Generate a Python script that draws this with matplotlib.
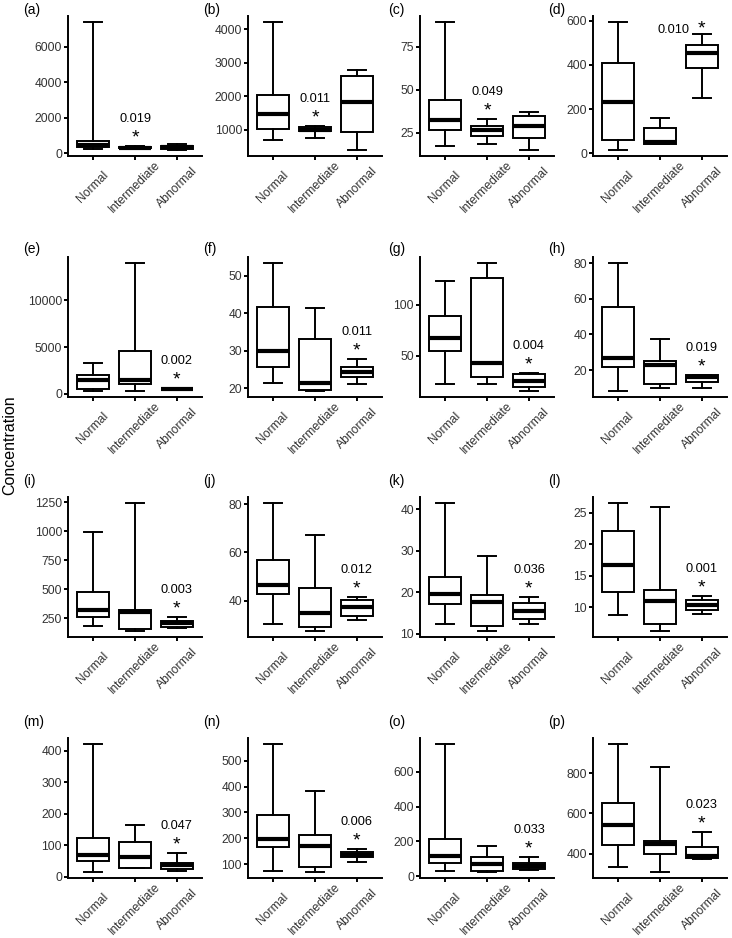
import numpy as np
import matplotlib.pyplot as plt

plt.rcParams['font.family'] = ['Liberation Sans', 'DejaVu Sans']

groups = ["Normal", "Intermediate", "Abnormal"]

# each row: whisker low, Q1, median, Q3, whisker high  (Normal, Intermediate, Abnormal)
a_stats = [(245, 330, 480, 680, 7390), (260, 290, 320, 350, 380), (200, 260, 350, 420, 520)]
b_stats = [(684, 1030, 1474, 2046, 4198), (763, 950, 1000, 1080, 1100), (408, 940, 1829, 2609, 2787)]
c_stats = [(17.1, 26.5, 32.5, 43.7, 89.0), (18.7, 23.3, 26.3, 29.0, 32.7), (15.2, 21.7, 28.7, 34.8, 37.3)]
d_stats = [(16.5, 58.5, 231, 408, 593), (40, 42, 50, 115.5, 160.5), (250.5, 385.6, 453, 490.6, 541.6)]
e_stats = [(330, 500, 1454, 1950, 3333), (319, 1028, 1418, 4539, 13972), (380, 450, 500, 540, 600)]
f_stats = [(21.3, 25.7, 30.0, 41.7, 53.3), (19.3, 19.6, 21.3, 33.2, 41.5), (21.1, 23.0, 24.2, 25.6, 27.7)]
g_stats = [(22.6, 54.8, 67.7, 88.7, 122.9), (22.3, 29.0, 43.2, 125.8, 140.3), (16.1, 19.4, 25.8, 32.3, 33.0)]
h_stats = [(8.4, 21.7, 26.9, 55.6, 80.0), (9.9, 12.4, 23.0, 25.2, 37.7), (9.9, 13.3, 16.0, 17.0, 17.3)]
i_stats = [(179, 261, 324, 474, 991), (142, 156, 307, 318, 1241), (165, 170, 205, 227, 256)]
j_stats = [(30.1, 42.6, 46.3, 57.0, 80.3), (27.5, 28.9, 34.9, 45.1, 67.2), (31.9, 33.7, 37.3, 40.3, 41.4)]
k_stats = [(12.2, 17.1, 19.6, 23.7, 41.4), (10.7, 11.7, 17.7, 19.4, 28.6), (12.2, 13.5, 15.5, 17.4, 18.9)]
l_stats = [(8.8, 12.5, 16.7, 22.1, 26.5), (6.3, 7.4, 11.0, 12.8, 25.9), (8.9, 9.5, 10.3, 11.2, 11.8)]
m_stats = [(15.7, 51, 70, 122.5, 421), (26, 28, 63, 110, 165), (18, 25, 35.6, 43, 75)]
n_stats = [(72, 168, 197, 292, 564), (70.6, 88.5, 170, 214, 384), (109, 127, 136, 145, 159)]
o_stats = [(30, 76, 119, 212, 759), (26.5, 32, 72, 112, 176), (38, 40, 59, 74, 113.5)]
p_stats = [(331, 441, 542.6, 649, 942.6), (310, 396.7, 447.5, 462, 828), (374, 378.7, 390, 431, 505)]

panel_stats = [a_stats, b_stats, c_stats, d_stats, e_stats, f_stats, g_stats, h_stats,
               i_stats, j_stats, k_stats, l_stats, m_stats, n_stats, o_stats, p_stats]
panel_letters = list("abcdefghijklmnop")

p_values = ["0.019", "0.011", "0.049", "0.010", "0.002", "0.011", "0.004", "0.019",
            "0.003", "0.012", "0.036", "0.001", "0.047", "0.006", "0.033", "0.023"]
star_group = [1, 1, 1, 2, 2, 2, 2, 2, 2, 2, 2, 2, 2, 2, 2, 2]

y_ticks = [
    [0, 2000, 4000, 6000], [1000, 2000, 3000, 4000], [25, 50, 75], [0, 200, 400, 600],
    [0, 5000, 10000], [20, 30, 40, 50], [50, 100], [20, 40, 60, 80],
    [250, 500, 750, 1000, 1250], [40, 60, 80], [10, 20, 30, 40], [10, 15, 20, 25],
    [0, 100, 200, 300, 400], [100, 200, 300, 400, 500], [0, 200, 400, 600], [400, 600, 800],
]

# layout in pixels
W, H = 732, 938
col_left = [68, 248, 420, 593]
row_top = [16, 257, 497, 738]
AX_W, AX_H = 134, 140
label_x = [23, 203, 388, 548]
label_y = [10, 249, 481, 722]
PX = 0.72  # points per pixel at dpi 100

fig = plt.figure(figsize=(W / 100, H / 100), dpi=100)

for i, stats in enumerate(panel_stats):
    row, col = divmod(i, 4)
    ax = fig.add_axes([col_left[col] / W, 1 - (row_top[row] + AX_H) / H, AX_W / W, AX_H / H])

    bstats = [dict(whislo=s[0], q1=s[1], med=s[2], q3=s[3], whishi=s[4], fliers=[]) for s in stats]
    ax.bxp(bstats, positions=[1, 2, 3], widths=0.75, capwidths=0.42, patch_artist=True,
           showfliers=False,
           boxprops=dict(facecolor='white', edgecolor='black', linewidth=1.4),
           medianprops=dict(color='black', linewidth=3.0, solid_capstyle='butt'),
           whiskerprops=dict(color='black', linewidth=1.4),
           capprops=dict(color='black', linewidth=1.4))

    lo = min(s[0] for s in stats)
    hi = max(s[4] for s in stats)
    pad = (hi - lo) * 0.05
    ax.set_ylim(lo - pad, hi + pad)
    ax.set_xlim(0.4, 3.6)
    ax.set_yticks(y_ticks[i])
    ax.set_xticks([1, 2, 3], groups)

    for side in ['top', 'right']:
        ax.spines[side].set_visible(False)
    for side in ['left', 'bottom']:
        ax.spines[side].set_linewidth(1.4)
    ax.tick_params(axis='both', length=4 * PX, width=1.4, labelsize=8.7,
                   labelcolor='#333333', color='black')
    ax.tick_params(axis='y', pad=2 * PX)
    ax.tick_params(axis='x', pad=27 * PX)
    plt.setp(ax.get_xticklabels(), rotation=45, ha='center', va='center', rotation_mode='anchor')

    g = star_group[i]
    top = stats[g][4]
    if panel_letters[i] == 'd':
        ax.annotate('*', (g + 1, top), xytext=(0, 5 * PX), textcoords='offset points',
                    ha='center', va='center', fontsize=14, annotation_clip=False)
        ax.annotate(p_values[i], (g + 1, top), xytext=(-28 * PX, 4 * PX), textcoords='offset points',
                    ha='center', va='center', fontsize=9.2, annotation_clip=False)
    else:
        ax.annotate('*', (g + 1, top), xytext=(0, 8 * PX), textcoords='offset points',
                    ha='center', va='center', fontsize=14, annotation_clip=False)
        ax.annotate(p_values[i], (g + 1, top), xytext=(0, 27 * PX), textcoords='offset points',
                    ha='center', va='center', fontsize=9.2, annotation_clip=False)

    fig.text(label_x[col] / W, 1 - label_y[row] / H, "(" + panel_letters[i] + ")",
             ha='left', va='center', fontsize=10)

fig.text(10 / W, 1 - 445 / H, "Concentration", rotation=90, ha='center', va='center', fontsize=11.5)

fig.savefig("out.png", dpi=100)
